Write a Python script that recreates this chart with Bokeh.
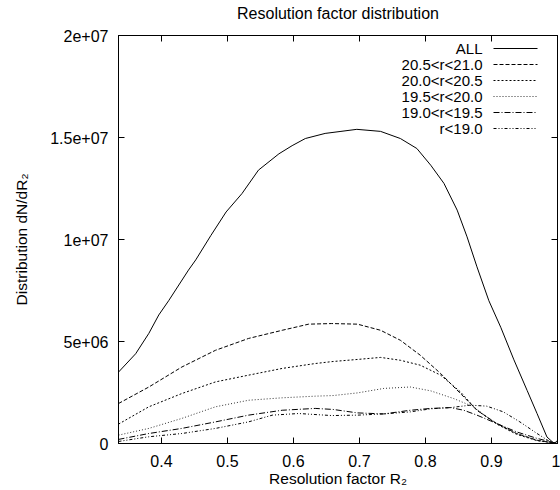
from bokeh.plotting import figure
from bokeh.models import LinearAxis, FixedTicker, Range1d
from bokeh.core.properties import value
from bokeh.embed import file_html
from bokeh.resources import INLINE

# ---------------- data ----------------
all_x = [0.335, 0.361, 0.381, 0.396, 0.411, 0.441, 0.452, 0.475, 0.498, 0.522, 0.547, 0.578,
         0.598, 0.618, 0.648, 0.672, 0.696, 0.732, 0.762, 0.787, 0.808, 0.828, 0.848, 0.863,
         0.878, 0.896, 0.914, 0.934, 0.954, 0.969, 0.984, 0.995, 1.0]
all_y = [3.5e6, 4.4e6, 5.4e6, 6.3e6, 7.0e6, 8.5e6, 9.0e6, 10.2e6, 11.35e6, 12.25e6, 13.4e6, 14.2e6,
         14.6e6, 14.95e6, 15.2e6, 15.3e6, 15.4e6, 15.3e6, 14.95e6, 14.46e6, 13.64e6, 12.75e6, 11.44e6, 10.13e6,
         8.66e6, 7.0e6, 5.7e6, 4.1e6, 2.6e6, 1.47e6, 0.32e6, 0.0, 0.15e6]

r205_x = [0.335, 0.381, 0.431, 0.482, 0.532, 0.583, 0.623, 0.658, 0.697, 0.732, 0.762, 0.792,
          0.823, 0.853, 0.878, 0.908, 0.938, 0.969, 1.0]
r205_y = [1.96e6, 2.77e6, 3.75e6, 4.57e6, 5.15e6, 5.55e6, 5.85e6, 5.88e6, 5.85e6, 5.55e6, 5.06e6, 4.33e6,
          3.43e6, 2.45e6, 1.63e6, 0.98e6, 0.49e6, 0.16e6, 0.0]

r200_x = [0.335, 0.381, 0.431, 0.482, 0.532, 0.583, 0.633, 0.660, 0.697, 0.732, 0.762, 0.792,
          0.823, 0.853, 0.878, 0.908, 0.938, 0.969, 1.0]
r200_y = [0.95e6, 1.8e6, 2.45e6, 3.02e6, 3.35e6, 3.68e6, 3.92e6, 4.02e6, 4.12e6, 4.22e6, 4.08e6, 3.84e6,
          3.35e6, 2.53e6, 1.63e6, 0.95e6, 0.45e6, 0.14e6, 0.0]

r195_x = [0.335, 0.381, 0.431, 0.482, 0.532, 0.583, 0.633, 0.660, 0.697, 0.737, 0.777, 0.808,
          0.843, 0.873, 0.903, 0.938, 0.969, 1.0]
r195_y = [0.41e6, 0.74e6, 1.23e6, 1.8e6, 2.12e6, 2.24e6, 2.32e6, 2.35e6, 2.48e6, 2.7e6, 2.77e6, 2.58e6,
          2.2e6, 1.8e6, 1.06e6, 0.49e6, 0.15e6, 0.0]

r190_x = [0.335, 0.381, 0.431, 0.482, 0.532, 0.583, 0.633, 0.660, 0.697, 0.737, 0.777, 0.808,
          0.838, 0.858, 0.878, 0.908, 0.938, 0.969, 1.0]
r190_y = [0.2e6, 0.49e6, 0.74e6, 1.06e6, 1.39e6, 1.63e6, 1.72e6, 1.67e6, 1.5e6, 1.45e6, 1.63e6, 1.72e6,
          1.76e6, 1.63e6, 1.39e6, 0.98e6, 0.57e6, 0.25e6, 0.0]

rlt19_x = [0.335, 0.381, 0.431, 0.482, 0.532, 0.568, 0.608, 0.658, 0.697, 0.737, 0.777, 0.808,
           0.838, 0.868, 0.893, 0.918, 0.943, 0.969, 0.989, 1.0]
rlt19_y = [0.1e6, 0.33e6, 0.49e6, 0.74e6, 1.06e6, 1.39e6, 1.47e6, 1.37e6, 1.39e6, 1.45e6, 1.55e6, 1.70e6,
           1.76e6, 1.88e6, 1.83e6, 1.55e6, 1.06e6, 0.49e6, 0.08e6, 0.0]

series_labels = ["ALL", "20.5<r<21.0", "20.0<r<20.5", "19.5<r<20.0", "19.0<r<19.5", "r<19.0"]

x_ticks = [0.4, 0.5, 0.6, 0.7, 0.8, 0.9, 1.0]
x_tick_labels = ["0.4", "0.5", "0.6", "0.7", "0.8", "0.9", "1"]
y_ticks = [0, 5e6, 1e7, 1.5e7, 2e7]
y_tick_labels = ["0", "5e+06", "1e+07", "1.5e+07", "2e+07"]

# ---------------- styling ----------------
FONT = "Liberation Sans"
FS_TITLE = "16px"
FS_TICK = "16px"
FS_AXIS = "15.5px"
FS_LEG = "15px"
X0, X1 = 0.335, 1.0
Y0, Y1 = 0.0, 2e7

p = figure(width=560, height=490, output_backend="svg", toolbar_location=None,
           x_range=Range1d(X0, X1), y_range=Range1d(Y0, Y1),
           min_border_left=118, min_border_right=3, min_border_top=35, min_border_bottom=47)
p.title = None
p.background_fill_color = "white"
p.border_fill_color = "white"
p.outline_line_color = "black"
p.outline_line_width = 1
p.xgrid.visible = False
p.ygrid.visible = False


def style_axis(ax, ticks, labels, show_labels):
    ax.ticker = FixedTicker(ticks=ticks)
    ax.major_label_overrides = {t: l for t, l in zip(ticks, labels)}
    ax.major_tick_in = 6
    ax.major_tick_out = 0
    ax.minor_tick_line_color = None
    ax.axis_line_color = "black"
    ax.major_tick_line_color = "black"
    ax.major_label_text_font = FONT
    ax.major_label_text_font_size = FS_TICK
    ax.major_label_text_color = "black"
    ax.axis_label_text_font = FONT
    ax.axis_label_text_font_size = FS_AXIS
    ax.axis_label_text_font_style = "normal"
    ax.axis_label_text_color = "black"
    if not show_labels:
        ax.major_label_text_font_size = "0px"
        ax.major_label_standoff = 0


style_axis(p.xaxis[0], x_ticks, x_tick_labels, True)
style_axis(p.yaxis[0], y_ticks, y_tick_labels, True)
p.xaxis[0].major_label_standoff = 11
p.yaxis[0].major_label_standoff = 10
p.xaxis[0].axis_label = "Resolution factor R\u2082"
p.yaxis[0].axis_label = "Distribution dN/dR\u2082"
p.xaxis[0].axis_label_standoff = 0
p.yaxis[0].axis_label_standoff = 17

# mirrored top axis; its label carries the chart title
top_axis = LinearAxis()
style_axis(top_axis, x_ticks, [""] * len(x_ticks), False)
top_axis.axis_label = "Resolution factor distribution"
top_axis.axis_label_text_font_size = FS_TITLE
top_axis.axis_label_standoff = 14
p.add_layout(top_axis, "above")
right_axis = LinearAxis()
style_axis(right_axis, y_ticks, [""] * len(y_ticks), False)
p.add_layout(right_axis, "right")

styles = [
    dict(line_color="black", line_dash="solid"),
    dict(line_color="black", line_dash="4 2"),
    dict(line_color="black", line_dash="2 2"),
    dict(line_color="#333333", line_dash="1 2"),
    dict(line_color="black", line_dash="6 2 1 2"),
    dict(line_color="black", line_dash="3 2 1 2 1 2"),
]
series = [(all_x, all_y), (r205_x, r205_y), (r200_x, r200_y),
          (r195_x, r195_y), (r190_x, r190_y), (rlt19_x, rlt19_y)]

for (xs, ys), st in zip(series, styles):
    p.line(xs, ys, line_width=1, **st)

# ---------------- legend (text right, sample line to the right) ----------------
FRAME_W, FRAME_H = 439.0, 408.0


def sx(dx_px):  # pixels from frame left -> data x
    return X0 + dx_px / FRAME_W * (X1 - X0)


def sy(dy_px):  # pixels from frame top -> data y
    return Y1 - dy_px / FRAME_H * (Y1 - Y0)


row_tops = [13 + 16 * i for i in range(len(series_labels))]
p.text(x=[sx(364)] * len(series_labels), y=[sy(r) for r in row_tops], text=series_labels,
       text_align="right", text_baseline="middle", text_font=value(FONT),
       text_font_size=value(FS_LEG), text_color="black")
for r, st in zip(row_tops, styles):
    p.line([sx(375), sx(419)], [sy(r), sy(r)], line_width=1, **st)

open("out.html", "w").write(file_html(p, INLINE))
